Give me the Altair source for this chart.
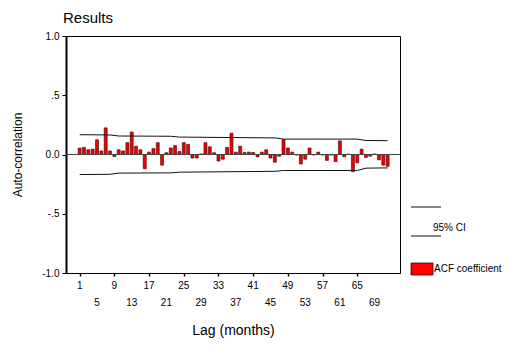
import altair as alt
import pandas as pd

FONT = "Liberation Sans"

# ACF coefficients by lag (months)
lags = list(range(1, 73))
acf = [0.054, 0.06, 0.04, 0.045, 0.124, 0.03, 0.225, 0.03, -0.017, 0.04,
       0.03, 0.10, 0.19, 0.07, 0.04, -0.12, 0.02, 0.05, 0.10, -0.09,
       0.015, 0.055, 0.075, 0.025, 0.10, 0.085, -0.03, -0.03, 0.005, 0.10,
       0.065, 0.015, -0.055, -0.04, 0.06, 0.18, 0.02, 0.07, 0.017, 0.02,
       0.017, -0.02, 0.02, 0.04, -0.03, -0.065, -0.015, 0.125, 0.055, 0.02,
       -0.005, -0.08, -0.04, 0.055, -0.005, 0.02, -0.005, -0.05, -0.005, -0.06,
       0.115, -0.02, 0.003, -0.145, -0.07, 0.045, -0.025, -0.015, 0.005, -0.045,
       -0.09, -0.10]

# 95% confidence limits (read at break points)
ci_lags = [1, 8, 10, 22, 24, 46, 48, 65, 67, 72]
ci_upper = [0.167, 0.165, 0.156, 0.154, 0.147, 0.140, 0.130, 0.130, 0.118, 0.117]
ci_lower = [-0.169, -0.167, -0.157, -0.155, -0.149, -0.142, -0.135, -0.135, -0.115, -0.113]

# staggered tick labels
row1_labels = [1, 9, 17, 25, 33, 41, 49, 57, 65]
row2_labels = [5, 13, 21, 29, 37, 45, 53, 61, 69]
tick_values = list(range(1, 70, 2))

W, H = 334, 237

bars_df = pd.DataFrame({"lag": lags, "acf": acf, "zero": [0.0] * len(lags)})
ci_df = pd.DataFrame({
    "lag": ci_lags + ci_lags,
    "ci": ci_upper + ci_lower,
    "bound": ["upper"] * len(ci_lags) + ["lower"] * len(ci_lags),
})
row1_df = pd.DataFrame({"lag": row1_labels})
row2_df = pd.DataFrame({"lag": row2_labels})
one = pd.DataFrame({"a": [0]})

xs = alt.Scale(domain=[-1, 73.7], nice=False, zero=False)
ys = alt.Scale(domain=[-1, 1], nice=False)

bars = alt.Chart(bars_df).mark_bar(
    size=3, fill="#ee0000", stroke="#400000", strokeWidth=0.6
).encode(
    x=alt.X("lag:Q", scale=xs, axis=alt.Axis(
        values=tick_values, labels=False, ticks=True, tickSize=3,
        tickColor="black", tickWidth=1.5, domain=True, domainColor="black",
        grid=False,
        title="Lag (months)", titleFont=FONT, titleFontSize=14,
        titleFontWeight="normal", titleColor="black",
        titleX=W / 2, titleY=57, titleBaseline="middle", titleAlign="center",
    )),
    y=alt.Y("acf:Q", scale=ys, axis=alt.Axis(
        values=[-1, -0.5, 0, 0.5, 1],
        labelExpr="datum.value == 1 ? '1.0' : datum.value == 0.5 ? '.5' : datum.value == 0 ? '0.0' : datum.value == -0.5 ? '-.5' : '-1.0'",
        labelFont=FONT, labelFontSize=10, labelColor="black", labelPadding=3,
        tickSize=4, tickColor="black", domain=True, domainColor="black",
        domainWidth=2, grid=False,
        title="Auto-correlation", titleFont=FONT, titleFontSize=12,
        titleFontWeight="normal", titleColor="black",
        titleX=-49, titleY=H / 2, titleAngle=-90, titleAlign="center",
        titleBaseline="middle",
    )),
    y2="zero:Q",
)

zero_line = alt.Chart(pd.DataFrame({"y": [0.0]})).mark_rule(
    color="#444444", strokeWidth=1
).encode(y=alt.Y("y:Q", scale=ys))

ci = alt.Chart(ci_df).mark_line(color="#111111", strokeWidth=1).encode(
    x=alt.X("lag:Q", scale=xs),
    y=alt.Y("ci:Q", scale=ys),
    detail="bound:N",
)

row1 = alt.Chart(row1_df).mark_text(
    font=FONT, fontSize=10, color="black", baseline="middle"
).encode(x=alt.X("lag:Q", scale=xs), y=alt.value(H + 13), text="lag:Q")
row2 = alt.Chart(row2_df).mark_text(
    font=FONT, fontSize=10, color="black", baseline="middle"
).encode(x=alt.X("lag:Q", scale=xs), y=alt.value(H + 30), text="lag:Q")

leg_line1 = alt.Chart(one).mark_rule(color="#111111", strokeWidth=1).encode(
    x=alt.value(345), x2=alt.value(375), y=alt.value(171))
leg_line2 = alt.Chart(one).mark_rule(color="#111111", strokeWidth=1).encode(
    x=alt.value(345), x2=alt.value(375), y=alt.value(200))
leg_ci = alt.Chart(one).mark_text(
    font=FONT, fontSize=10, color="black", align="left", baseline="middle"
).encode(x=alt.value(367), y=alt.value(192), text=alt.value("95% CI"))
leg_box = alt.Chart(one).mark_rect(
    fill="#ff0000", stroke="#400000", strokeWidth=0.8
).encode(x=alt.value(345), x2=alt.value(367), y=alt.value(227), y2=alt.value(239))
leg_acf = alt.Chart(one).mark_text(
    font=FONT, fontSize=10, color="black", align="left", baseline="middle"
).encode(x=alt.value(368), y=alt.value(233), text=alt.value("ACF coefficient"))

chart = alt.layer(
    bars, zero_line, ci, row1, row2,
    leg_line1, leg_line2, leg_ci, leg_box, leg_acf,
).properties(
    width=W, height=H,
    autosize=alt.AutoSizeParams(type="none"),
    padding={"left": 58, "top": 28, "right": 117, "bottom": 72},
    title=alt.TitleParams(
        "Results", anchor="start", frame="group", font=FONT, fontSize=15,
        fontWeight="normal", color="black", offset=5, dx=-3,
    ),
).configure(
    background="white",
).configure_view(
    stroke="black", strokeWidth=1,
)

chart.save("out.html", embed_options={"renderer": "svg", "actions": False})
